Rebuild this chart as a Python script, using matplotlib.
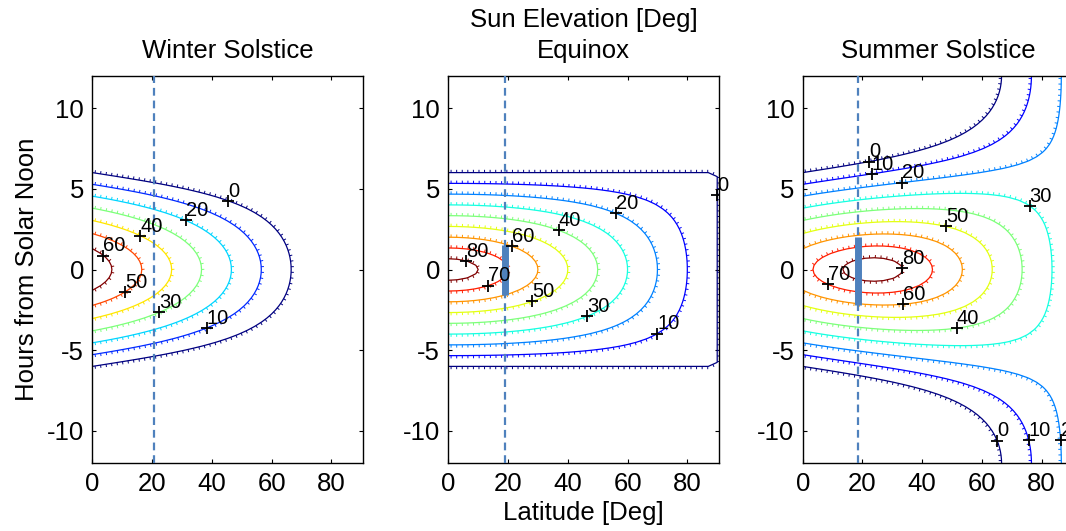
import numpy as np
import matplotlib
matplotlib.use('Agg')
import matplotlib.pyplot as plt
import matplotlib.patheffects as pe

plt.rcParams['font.family'] = ['Liberation Sans', 'DejaVu Sans']
plt.rcParams['axes.unicode_minus'] = False

titles = ['Winter Solstice', 'Equinox', 'Summer Solstice']
declination = [-23.44, 0.0, 23.44]  # sun declination per panel [deg]
levels = [[0, 10, 20, 30, 40, 50, 60],
          [0, 10, 20, 30, 40, 50, 60, 70, 80],
          [0, 10, 20, 30, 40, 50, 60, 70, 80]]

# site latitude (dashed line) and hours with the sun above 60 deg (thick bar)
site_lat = [20.5, 19.0, 18.5]
bar_hours = [None, (-1.55, 1.5), (-2.2, 2.0)]

# rough label spots: level, latitude, hour
lab_lev = [[0, 10, 20, 30, 40, 50, 60],
           [0, 10, 20, 30, 40, 50, 60, 70, 80],
           [0, 10, 20, 30, 40, 50, 60, 70, 80, 0, 10, 20]]
lab_lat = [[45.4, 38.4, 31.1, 22.4, 16.0, 11.0, 3.4],
           [87.9, 69.7, 56.1, 46.3, 36.8, 28.1, 21.0, 13.2, 5.6],
           [21.9, 23.1, 33.3, 76.1, 51.3, 47.8, 33.6, 8.8, 32.9, 65.4, 76.0, 86.0]]
lab_hr = [[4.24, -3.63, 2.99, -2.66, 2.07, -1.4, 0.79],
          [4.6, -3.9, 3.42, -2.87, 2.33, -1.94, 1.3, -0.91, 0.34],
          [6.9, 6.0, 5.39, 3.98, -3.4, 2.54, -2.13, -0.85, 0.07, -10.57, -10.57, -10.57]]

xticks = [0, 20, 40, 60, 80]
yticks = [-10, -5, 0, 5, 10]

# grid for the elevation field
lat = np.arange(0, 91, 3.0)
hrs = np.arange(-12, 12.01, 0.25)
LAT, HRS = np.meshgrid(lat, hrs)


def sun_elev(dec):
    phi = np.radians(LAT)
    d = np.radians(dec)
    h = np.radians(15 * HRS)
    s = np.sin(phi) * np.sin(d) + np.cos(phi) * np.cos(d) * np.cos(h)
    return np.round(np.degrees(np.arcsin(np.clip(s, -1, 1))), 9)


sc = np.array([2.99, 16.2])  # px per unit, used to snap labels onto lines


def nearest_on(segs, x, y):
    p = np.array([x, y])
    best, bd = None, 1e18
    for s in segs:
        if len(s) < 2:
            continue
        a, b = s[:-1], s[1:]
        ab = (b - a) * sc
        ap = (p - a) * sc
        t = np.clip((ap * ab).sum(1) / np.maximum((ab * ab).sum(1), 1e-12), 0, 1)
        q = a + (b - a) * t[:, None]
        d = (((q - p) * sc) ** 2).sum(1)
        k = np.argmin(d)
        if d[k] < bd:
            bd, best = d[k], q[k]
    return best


W, H = 1066, 531
fig = plt.figure(figsize=(W / 100, H / 100), dpi=100)
lefts = [92.3, 448.3, 802.7]
ax_top, ax_bot, ax_w = 75.7, 463.3, 270.4
fs = 18.5
bar_col = '#4f81bd'

for i in range(3):
    ax = fig.add_axes([lefts[i] / W, (H - ax_bot) / H, ax_w / W, (ax_bot - ax_top) / H])
    el = sun_elev(declination[i])
    cs = ax.contour(lat, hrs, el, levels=levels[i], cmap='jet', linewidths=0.9)
    cs.set_path_effects([pe.withTickedStroke(spacing=4, angle=-90, length=0.5, linewidth=0.7)])

    ax.axvline(site_lat[i], color=bar_col, lw=1.6, ls=(0, (3.5, 2.2)), zorder=3)
    if bar_hours[i] is not None:
        ax.plot([site_lat[i], site_lat[i]], bar_hours[i], color=bar_col, lw=5,
                solid_capstyle='butt', zorder=4)

    for lv, la, hr in zip(lab_lev[i], lab_lat[i], lab_hr[i]):
        segs = cs.allsegs[levels[i].index(lv)]
        px, py = nearest_on(segs, la, hr)
        ax.plot(px, py, '+', color='k', ms=8, mew=1.3, zorder=5)
        ax.annotate(str(lv), (px, py), xytext=(0, 3), textcoords='offset points',
                    fontsize=14.5, ha='left', va='baseline', zorder=6)

    ax.set_xlim(0, 90.5)
    ax.set_ylim(-12, 12)
    ax.set_xticks(xticks)
    ax.set_yticks(yticks)
    ax.tick_params(direction='in', length=3, width=0.8, top=True, right=True,
                   labelsize=fs, pad=6)
    for sp in ax.spines.values():
        sp.set_linewidth(1.0)
    ax.set_title(titles[i], fontsize=fs, pad=13)

mid = (lefts[1] + ax_w / 2) / W
fig.text(mid, 1 - 26.5 / H, 'Sun Elevation [Deg]', fontsize=fs, ha='center', va='baseline')
fig.text(mid, 1 - 520 / H, 'Latitude [Deg]', fontsize=fs, ha='center', va='baseline')
fig.text(27 / W, 1 - 269.5 / H, 'Hours from Solar Noon', fontsize=fs, rotation=90,
         ha='center', va='center')

plt.savefig('out.png', dpi=100)
